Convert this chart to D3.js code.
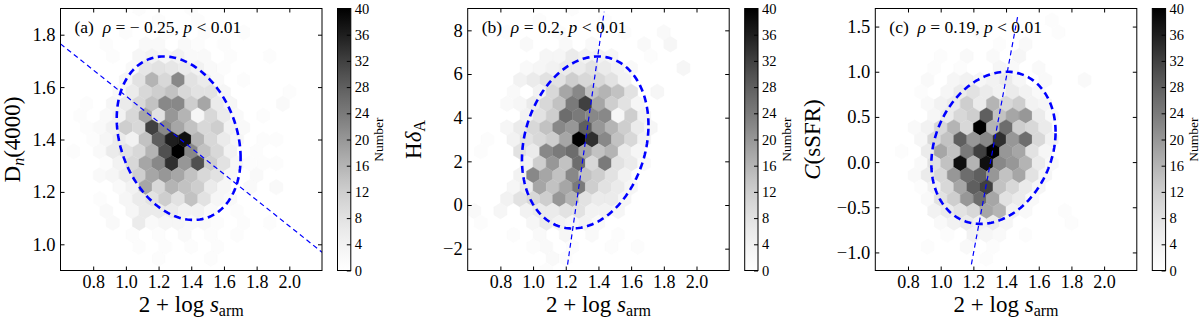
<!DOCTYPE html>
<html>
<head>
<meta charset="utf-8">
<script src="https://cdn.jsdelivr.net/npm/d3@7"></script>
<style>
  body { margin: 0; background: #fff; }
  text { font-family: "Liberation Serif", "Times New Roman", serif; fill: #000; }
</style>
</head>
<body>
<div id="chart"></div>
<script>
// tick values
var xTicks = [0.8, 1.0, 1.2, 1.4, 1.6, 1.8, 2.0];
var yTicksA = [1.0, 1.2, 1.4, 1.6, 1.8];
var yTicksB = [-2, 0, 2, 4, 6, 8];
var yTicksC = [-1.0, -0.5, 0.0, 0.5, 1.0, 1.5];
var cbarTicks = [0, 4, 8, 12, 16, 20, 24, 28, 32, 36, 40];

// hexbin extents [xmin, xmax, ymin, ymax] (gridsize 20)
var extentA = [0.6, 2.2, 0.9, 1.9];
var extentB = [0.6, 2.2, -3, 9];
var extentC = [0.6, 2.2, -1.2, 1.7];

// hexbin counts, top row first; even rows start at xmin, odd rows shifted half a cell
var countsA = [
  [0,0,0,0,0,0,1,0,0,0,1,0,0,0,0,0,0,0,0,0],
  [0,0,0,0,0,0,0,1,0,0,1,0,0,0,0,0,0,0,0,0],
  [0,0,0,0,0,1,0,0,1,0,0,1,0,0,1,0,0,0,0,0],
  [0,0,0,1,0,0,2,2,0,2,1,0,1,0,0,0,0,0,0,0],
  [0,0,0,0,1,0,3,4,3,4,2,2,0,1,0,0,1,0,0,0],
  [0,0,0,0,0,2,7,8,7,6,4,2,1,0,0,0,0,0,0,0],
  [0,0,0,0,0,3,8,16,10,22,8,6,2,0,1,0,0,0,0,0],
  [0,0,0,0,2,6,10,12,14,10,8,8,3,0,0,0,0,1,0,0],
  [0,0,1,0,3,6,10,14,22,22,12,18,6,3,0,0,0,2,0,0],
  [0,1,0,2,4,10,18,8,20,16,3,10,6,2,0,1,0,0,0,0],
  [0,0,1,2,4,12,10,32,22,18,14,10,12,4,2,0,0,0,0,0],
  [0,0,1,3,6,4,14,28,36,38,16,10,6,3,0,1,1,0,0,0],
  [0,1,0,2,6,8,10,16,30,40,22,14,10,4,0,1,0,0,0,0],
  [0,0,0,1,4,10,18,22,34,20,30,12,8,3,1,1,1,0,0,0],
  [0,0,0,2,3,6,12,18,20,18,14,10,8,3,0,2,0,0,0,0],
  [0,0,0,0,2,4,18,10,16,14,12,6,3,0,2,0,2,0,0,0],
  [0,0,0,1,0,3,6,8,12,8,14,8,3,2,0,0,0,0,0,0],
  [0,0,0,2,0,3,6,6,6,4,4,2,0,1,0,0,0,0,0,0],
  [0,0,0,0,2,0,6,2,3,3,2,2,1,0,1,0,1,0,0,0],
  [0,0,0,0,0,1,0,1,0,2,0,1,0,1,0,0,0,0,0,0],
  [0,0,0,0,0,0,1,0,1,0,1,0,1,0,0,0,0,0,0,0],
  [0,0,0,0,0,0,0,1,0,0,0,1,0,0,0,0,0,0,0,0],
  [0,0,0,0,0,0,0,0,0,0,0,0,0,0,0,0,0,0,0,0]
];
var countsB = [
  [0,0,0,0,0,0,0,0,1,0,0,0,0,0,0,0,0,0,0,0],
  [0,0,0,0,0,1,0,0,0,0,1,0,0,0,0,0,0,0,0,0],
  [0,0,0,1,0,0,0,1,0,0,0,0,1,0,0,2,0,0,0,0],
  [0,0,0,0,2,0,0,2,0,2,0,0,0,2,0,3,0,0,0,0],
  [0,0,0,0,0,0,3,3,6,4,4,3,0,0,1,0,0,0,0,0],
  [0,0,0,0,2,3,4,6,6,8,6,4,2,0,0,0,3,0,0,0],
  [0,0,0,0,4,6,8,8,12,10,10,8,4,0,0,0,0,0,0,0],
  [0,0,0,2,0,4,10,18,22,14,16,14,8,0,3,0,0,0,0,0],
  [0,0,0,2,3,6,10,14,24,32,18,12,8,3,0,0,0,0,0,0],
  [0,0,0,0,4,8,12,26,24,22,22,3,12,4,0,0,0,0,0,0],
  [0,0,0,3,6,10,14,22,20,28,20,16,12,6,3,0,0,0,0,0],
  [0,1,0,4,8,10,12,18,40,34,22,14,10,4,0,0,0,0,0,0],
  [0,1,0,0,8,6,22,24,26,18,14,16,6,3,0,0,0,0,0,0],
  [0,0,0,0,4,12,20,14,26,10,24,8,6,2,0,0,0,0,0,0],
  [0,0,0,0,4,22,18,14,22,14,12,8,4,0,0,0,0,0,0,0],
  [0,0,0,3,6,18,14,18,24,12,8,6,3,0,0,0,0,0,0,0],
  [0,0,0,4,8,10,12,20,16,8,6,6,3,0,0,0,0,0,0,0],
  [2,0,3,0,4,6,6,8,8,4,4,3,0,0,0,0,0,0,0,0],
  [0,1,0,0,0,3,6,4,3,4,2,0,0,0,0,0,0,0,0,0],
  [0,0,0,1,0,2,0,3,0,2,0,1,0,0,0,0,0,0,0,0],
  [0,0,0,0,0,1,2,0,1,0,0,1,0,1,0,0,0,0,0,0],
  [0,0,0,0,0,0,2,1,0,0,0,0,0,0,0,0,0,0,0,0],
  [0,0,0,0,0,0,1,0,0,0,0,0,0,0,0,0,0,0,0,0]
];
var countsC = [
  [0,0,0,0,0,0,0,0,0,0,0,0,0,0,0,0,0,0,0,0],
  [0,0,0,0,0,0,0,0,0,0,0,0,0,1,0,0,0,0,0,0],
  [0,0,0,0,0,0,0,0,1,0,0,0,0,0,1,0,0,0,0,0],
  [0,0,0,0,0,0,0,0,0,1,0,2,0,0,0,0,0,0,0,0],
  [0,0,0,0,0,1,0,2,0,2,0,3,0,0,0,0,0,0,0,0],
  [0,0,0,0,1,0,1,0,0,3,2,0,2,0,0,0,0,0,0,0],
  [0,0,0,0,2,0,3,4,3,4,6,3,0,2,0,0,2,0,0,0],
  [0,0,0,1,0,3,6,8,6,4,6,4,2,0,0,0,0,0,0,0],
  [0,0,0,0,2,4,6,12,6,16,10,12,4,3,0,0,0,0,0,0],
  [0,0,0,0,3,6,10,12,28,14,18,20,6,2,0,0,0,0,0,0],
  [0,0,0,2,4,10,16,10,40,16,26,12,10,6,0,0,0,0,0,0],
  [0,0,0,3,10,14,28,20,22,34,20,26,10,4,0,0,0,0,0,0],
  [0,0,1,0,6,18,14,24,32,40,20,18,8,3,0,0,0,0,0,0],
  [0,0,0,2,8,14,38,16,38,22,20,16,6,2,0,0,0,0,0,0],
  [0,0,0,2,6,10,20,26,28,20,14,18,8,3,0,0,0,0,0,0],
  [0,0,0,1,4,10,18,28,32,14,10,6,3,0,0,0,0,0,0,0],
  [0,0,0,0,2,8,12,20,26,18,8,6,2,0,0,0,0,0,0,0],
  [0,0,0,0,4,6,8,10,18,16,4,2,0,0,1,0,0,0,0,0],
  [0,0,0,0,0,2,4,6,4,6,3,0,0,0,0,1,0,0,0,0],
  [0,0,0,0,0,1,0,4,3,2,0,1,0,0,0,0,0,0,0,0],
  [0,0,0,0,1,0,0,2,0,1,0,0,0,0,0,0,0,0,0,0],
  [0,0,0,0,0,0,0,0,1,0,0,0,0,0,0,0,0,0,0,0],
  [0,0,0,0,0,0,0,0,0,0,0,0,0,0,0,0,0,0,0,0]
];

// dispersion ellipses: [cx, cy, half-width x, half-height y, correlation]
var ellipseA = [1.323, 1.405, 0.379, 0.312, -0.24];
var ellipseB = [1.319, 2.865, 0.387, 3.94, 0.2];
var ellipseC = [1.323, 0.158, 0.380, 0.842, 0.21];

// fitted lines [[x1, y1], [x2, y2]]
var lineA = [[0.6, 1.765], [2.2, 0.97]];
var lineB = [[1.211, -2.73], [1.435, 8.85]];
var lineC = [[1.188, -1.131], [1.474, 1.641]];

// correlation notes
var tags = ['(a)', '(b)', '(c)'];
var rhoText = ['= \u2212 0.25', '= 0.2', '= 0.19'];

var svgWidth = 1200;
var svgHeight = 321;
var plotTop = 8.5;
var plotWidth = 261.5;
var plotHeight = 262;

var svg = d3.select('#chart').append('svg')
    .attr('width', svgWidth)
    .attr('height', svgHeight);

var defs = svg.append('defs');
var color = d3.scaleSequential(d3.interpolateGreys).domain([0, 40]);

var grad = defs.append('linearGradient').attr('id', 'cbar')
    .attr('x1', 0).attr('y1', 1).attr('x2', 0).attr('y2', 0);
d3.range(0, 41, 2).forEach(function(v) {
    grad.append('stop').attr('offset', v / 40).attr('stop-color', color(v));
});

var panels = [
  { left: 60.5, extent: extentA, counts: countsA, yTicks: yTicksA, fmt: d3.format('.1f'),
    ellipse: ellipseA, line: lineA, labelX: 40.5, label: 'a' },
  { left: 467.7, extent: extentB, counts: countsB, yTicks: yTicksB, fmt: d3.format('d'),
    ellipse: ellipseB, line: lineB, labelX: 47, label: 'b' },
  { left: 875.3, extent: extentC, counts: countsC, yTicks: yTicksC, fmt: d3.format('.1f'),
    ellipse: ellipseC, line: lineC, labelX: 55.5, label: 'c' }
];

var hexOffsets = [[0.5, -0.5], [0.5, 0.5], [0, 1], [-0.5, 0.5], [-0.5, -0.5], [0, -1]];

function styleAxis(g, size) {
  g.attr('font-family', null).attr('font-size', null);
  g.select('.domain').remove();
  g.selectAll('line').attr('stroke', '#000').attr('stroke-width', 1);
  g.selectAll('text').style('font-size', size + 'px');
}

panels.forEach(function(p, n) {
  var ext = p.extent;
  var x = d3.scaleLinear().domain([0.6, 2.2]).range([0, plotWidth]);
  var y = d3.scaleLinear().domain([ext[2], ext[3]]).range([plotHeight, 0]);

  var g = svg.append('g').attr('transform', `translate(${p.left}, ${plotTop})`);

  defs.append('clipPath').attr('id', 'clip' + n)
    .append('rect').attr('width', plotWidth).attr('height', plotHeight);
  var inner = g.append('g').attr('clip-path', `url(#clip${n})`);

  // hexbin cells
  var sx = (ext[1] - ext[0]) / 20;
  var sy = (ext[3] - ext[2]) / 11;
  var cells = [];
  p.counts.forEach(function(row, idx) {
    var r = p.counts.length - 1 - idx;
    row.forEach(function(c, i) {
      if (c > 0) cells.push({ cx: ext[0] + (i + (r % 2) * 0.5) * sx, cy: ext[2] + r * sy / 2, c: c });
    });
  });
  inner.selectAll('path.hex')
    .data(cells)
    .enter()
    .append('path')
    .attr('class', 'hex')
    .attr('d', function(d) {
      return 'M' + hexOffsets.map(function(o) {
        return x(d.cx + o[0] * sx) + ',' + y(d.cy + o[1] * sy / 3);
      }).join('L') + 'Z';
    })
    .attr('fill', d => color(d.c))
    .attr('stroke', d => color(d.c))
    .attr('stroke-width', 0.4);

  // fitted line
  inner.append('path')
    .datum(p.line)
    .attr('d', d3.line().x(d => x(d[0])).y(d => y(d[1])))
    .attr('fill', 'none')
    .attr('stroke', '#0000ff')
    .attr('stroke-width', 1.2)
    .attr('stroke-dasharray', '5,3.5');

  // ellipse
  var e = p.ellipse;
  var pts = d3.range(0, 361, 2).map(function(a) {
    var t = a * Math.PI / 180;
    return [e[0] + e[2] * Math.cos(t),
            e[1] + e[3] * (e[4] * Math.cos(t) + Math.sqrt(1 - e[4] * e[4]) * Math.sin(t))];
  });
  inner.append('path')
    .datum(pts)
    .attr('d', d3.line().x(d => x(d[0])).y(d => y(d[1])))
    .attr('fill', 'none')
    .attr('stroke', '#0000ff')
    .attr('stroke-width', 2.6)
    .attr('stroke-dasharray', '7,4.5');

  // axes, ticks pointing inward on all sides
  var xb = g.append('g').attr('transform', `translate(0, ${plotHeight})`)
    .call(d3.axisBottom(x).tickValues(xTicks).tickSize(-4).tickPadding(5).tickFormat(d3.format('.1f')));
  styleAxis(xb, 18);
  var xt = g.append('g')
    .call(d3.axisTop(x).tickValues(xTicks).tickSize(-4).tickFormat(''));
  styleAxis(xt, 18);
  var yl = g.append('g')
    .call(d3.axisLeft(y).tickValues(p.yTicks).tickSize(-4).tickPadding(5).tickFormat(p.fmt));
  styleAxis(yl, 18.5);
  var yr = g.append('g').attr('transform', `translate(${plotWidth}, 0)`)
    .call(d3.axisRight(y).tickValues(p.yTicks).tickSize(-4).tickFormat(''));
  styleAxis(yr, 18.5);

  g.append('rect')
    .attr('width', plotWidth).attr('height', plotHeight)
    .attr('fill', 'none').attr('stroke', '#000').attr('stroke-width', 1);

  // note in the corner
  var note = g.append('text')
    .attr('x', 14).attr('y', 24.5)
    .style('font-size', '17.5px')
    .style('white-space', 'pre');
  note.append('tspan').text(tags[n] + '  ');
  note.append('tspan').style('font-style', 'italic').text('\u03c1');
  note.append('tspan').text(' ' + rhoText[n] + ', ');
  note.append('tspan').style('font-style', 'italic').text('p');
  note.append('tspan').text(' < 0.01');

  // x label
  var xl = g.append('text')
    .attr('x', plotWidth / 2).attr('y', 303.5)
    .attr('text-anchor', 'middle')
    .style('font-size', '23px')
    .style('white-space', 'pre');
  xl.append('tspan').text('2 + log ');
  xl.append('tspan').style('font-style', 'italic').text('s');
  xl.append('tspan').attr('dy', 4).style('font-size', '16px').text('arm');

  // y label
  var ylab = g.append('text')
    .attr('transform', `translate(${-p.labelX}, ${plotHeight / 2}) rotate(-90)`)
    .attr('text-anchor', 'middle')
    .style('font-size', '23px');
  if (p.label === 'a') {
    ylab.append('tspan').text('D');
    ylab.append('tspan').attr('dy', 4).style('font-size', '16px').style('font-style', 'italic').text('n');
    ylab.append('tspan').attr('dy', -4).text('(4000)');
  } else if (p.label === 'b') {
    ylab.append('tspan').text('H');
    ylab.append('tspan').style('font-style', 'italic').text('\u03b4');
    ylab.append('tspan').attr('dy', 4).style('font-size', '16px').text('A');
  } else {
    ylab.append('tspan').style('font-style', 'italic').text('C');
    ylab.append('tspan').text('(sSFR)');
  }

  // colorbar
  var cbLeft = plotWidth + 15.5;
  var cbWidth = 13.3;
  var cb = g.append('g').attr('transform', `translate(${cbLeft}, 0)`);
  cb.append('rect')
    .attr('width', cbWidth).attr('height', plotHeight)
    .attr('fill', 'url(#cbar)')
    .attr('stroke', '#000').attr('stroke-width', 1);
  var cbScale = d3.scaleLinear().domain([0, 40]).range([plotHeight, 0]);
  var cbAxis = cb.append('g').attr('transform', `translate(${cbWidth}, 0)`)
    .call(d3.axisRight(cbScale).tickValues(cbarTicks).tickSize(-4).tickPadding(4));
  styleAxis(cbAxis, 14.5);
  cb.append('text')
    .attr('transform', `translate(${cbWidth + 32.5}, ${plotHeight / 2}) rotate(-90)`)
    .attr('text-anchor', 'middle')
    .style('font-size', '13.5px')
    .text('Number');
});
</script>
</body>
</html>
